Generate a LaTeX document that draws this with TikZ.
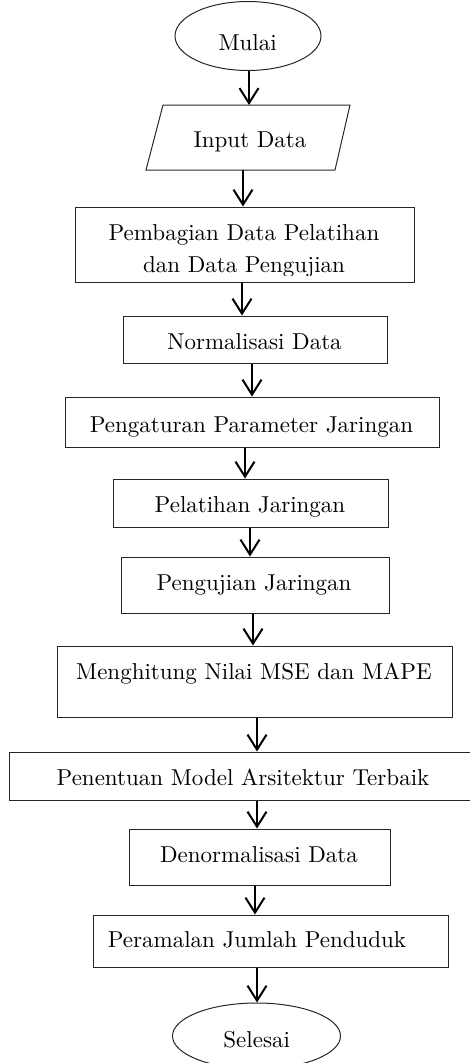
\documentclass[tikz,border=0pt]{standalone}
\usepackage{fontspec}
\setmainfont{lmroman10-regular.otf}
\usetikzlibrary{shapes.geometric,arrows.meta}
\tikzset{
  shp/.style={draw=black!85, line width=1pt, inner sep=0pt},
  boxshape/.style={shp, rectangle},
  ovalshape/.style={shp, ellipse},
  txt/.style={inner sep=0pt, anchor=base, font=\fontsize{23}{28}\selectfont},
  arr/.style={line width=2pt, -{Straight Barb[length=15pt,width=19pt]}},
}
\begin{document}
\begin{tikzpicture}[x=1pt,y=-1pt]
\useasboundingbox (0,0) rectangle (469,1063);
% shapes
\node[ovalshape, minimum width=146pt, minimum height=69pt] (mulai) at (248,36) {};
\draw[draw=black!85, line width=1pt] (163,105) -- (350,105) -- (335,170) -- (146,170) -- cycle;
\coordinate (inTop) at (249,105);
\coordinate (inBot) at (243,170);
\node[boxshape, minimum width=339pt, minimum height=75pt] (bagi) at (244.5,244.5) {};
\node[boxshape, minimum width=264pt, minimum height=47pt] (norm) at (255,339.5) {};
\node[boxshape, minimum width=374pt, minimum height=50pt] (atur) at (252,422) {};
\node[boxshape, minimum width=275pt, minimum height=48pt] (latih) at (250.5,503) {};
\node[boxshape, minimum width=268pt, minimum height=56pt] (uji) at (255,585) {};
\node[boxshape, minimum width=395pt, minimum height=71pt] (hitung) at (254.5,681.5) {};
\node[boxshape, minimum width=480pt, minimum height=48pt] (tentu) at (249,776) {};
\node[boxshape, minimum width=261pt, minimum height=56pt] (denorm) at (259.5,857) {};
\node[boxshape, minimum width=355pt, minimum height=52pt] (ramal) at (270.5,941) {};
\node[ovalshape, minimum width=168pt, minimum height=66pt] (selesai) at (256.5,1036) {};
% texts
\node[txt] (tmulai) at (247.7,50) {Mulai};
\node[txt] (tinput) at (250,147) {Input Data};
\node[txt] (tbagi1) at (244,240) {Pembagian Data Pelatihan};
\begin{scope}
\clip (75,207) rectangle (414,275);
\node[txt] (tbagi2) at (244,272) {dan Data Pengujian};
\end{scope}
\node[txt] (tnorm) at (254.5,349) {Normalisasi Data};
\node[txt] (tatur) at (251.5,432) {Pengaturan Parameter Jaringan};
\node[txt] (tlatih) at (250,512) {Pelatihan Jaringan};
\node[txt] (tuji) at (254,590) {Pengujian Jaringan};
\node[txt] (thitung) at (254,679) {Menghitung Nilai MSE dan MAPE};
\node[txt] (ttentu) at (243,785) {Penentuan Model Arsitektur Terbaik};
\node[txt] (tdenorm) at (259,862) {Denormalisasi Data};
\node[txt] (tramal) at (257,947) {Peramalan Jumlah Penduduk};
\node[txt] (tselesai) at (256.7,1047) {Selesai};
% arrows
\draw[arr] (mulai.south -| 249,0) -- (inTop);
\draw[arr] (inBot) -- (bagi.north -| 243,0);
\draw[arr] (bagi.south -| 242,0) -- (norm.north -| 242,0);
\draw[arr] (norm.south -| 252,0) -- (atur.north -| 252,0);
\draw[arr] (atur.south -| 245,0) -- (latih.north -| 245,0);
\draw[arr] (latih.south -| 250,0) -- (uji.north -| 250,0);
\draw[arr] (uji.south -| 253,0) -- (hitung.north -| 253,0);
\draw[arr] (hitung.south -| 257,0) -- (tentu.north -| 257,0);
\draw[arr] (tentu.south -| 257,0) -- (denorm.north -| 257,0);
\draw[arr] (denorm.south -| 255,0) -- (ramal.north -| 255,0);
\draw[arr] (ramal.south -| 257,0) -- (selesai.north -| 257,0);
\end{tikzpicture}
\end{document}
